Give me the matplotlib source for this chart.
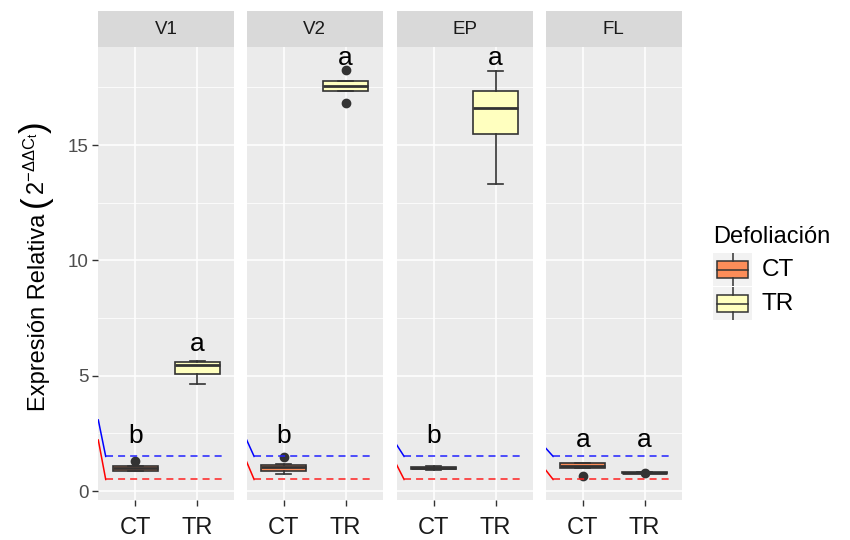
import matplotlib
matplotlib.use("Agg")
import matplotlib.pyplot as plt
from matplotlib.patches import Rectangle

plt.rcParams['font.family'] = ['Liberation Sans', 'DejaVu Sans']
plt.rcParams['mathtext.fontset'] = 'custom'
plt.rcParams['mathtext.rm'] = 'Liberation Sans'
plt.rcParams['mathtext.it'] = 'Liberation Sans:italic'

# ---- datos ----
paneles = ["V1", "V2", "EP", "FL"]
grupos = ["CT", "TR"]
colores = {"CT": "#FC8D59", "TR": "#FFFFBF"}

# estadisticas de caja por panel: [CT, TR]
medianas = [[1.00, 5.45], [1.05, 17.55], [1.00, 16.61], [1.10, 0.80]]
q1 = [[0.87, 5.06], [0.87, 17.33], [0.95, 15.48], [0.98, 0.78]]
q3 = [[1.08, 5.58], [1.14, 17.76], [1.05, 17.36], [1.20, 0.82]]
bigote_inf = [[0.85, 4.65], [0.74, 17.33], [0.93, 13.32], [0.98, 0.77]]
bigote_sup = [[1.10, 5.63], [1.16, 17.76], [1.07, 18.23], [1.20, 0.83]]
atipicos = [[[1.31], []], [[1.47], [18.26, 16.83]], [[], []], [[0.65], [0.80]]]

# letras de significancia y su altura (linea base)
letras = [["b", "a"], ["b", "a"], ["b", "a"], ["a", "a"]]
letras_y = [[2.08, 6.05], [2.08, 18.47], [2.08, 18.47], [1.92, 1.92]]

# lineas de referencia
nivel_azul = 1.5
nivel_rojo = 0.5
inicio_azul = [3.08, 2.21, 2.00, 1.86]
inicio_rojo = [2.21, 1.26, 1.13, 0.91]

yticks = [0, 5, 10, 15]

# ---- figura ----
W, H = 850, 540
fig = plt.figure(figsize=(W / 100, H / 100), dpi=100)


def px_axes(x0, y0, x1, y1):
    return fig.add_axes([x0 / W, 1 - y1 / H, (x1 - x0) / W, (y1 - y0) / H])


lefts = [98.3, 246.7, 396.7, 545.7]
pw = 136
top, bottom = 47, 500
ylim = (-0.39, 19.25)

for i, nombre in enumerate(paneles):
    ax = px_axes(lefts[i], top, lefts[i] + pw, bottom)
    ax.set_facecolor("#EBEBEB")
    for s in ax.spines.values():
        s.set_visible(False)

    for j, g in enumerate(grupos):
        st = [dict(med=medianas[i][j], q1=q1[i][j], q3=q3[i][j],
                   whislo=bigote_inf[i][j], whishi=bigote_sup[i][j],
                   fliers=atipicos[i][j])]
        ax.bxp(st, positions=[j + 1], widths=0.73, capwidths=0.24,
               patch_artist=True, manage_ticks=False,
               boxprops=dict(facecolor=colores[g], edgecolor="#333333", lw=1.2),
               medianprops=dict(color="#333333", lw=2.0),
               whiskerprops=dict(color="#333333", lw=1.2),
               capprops=dict(color="#333333", lw=1.2),
               flierprops=dict(marker="o", markersize=6, markerfacecolor="#333333",
                               markeredgecolor="#333333"))
        ax.text(j + 1, letras_y[i][j], letras[i][j], fontsize=19, ha="center",
                va="baseline", color="black")

    # lineas de referencia
    ax.plot([0.4, 0.52], [inicio_azul[i], nivel_azul], color="blue", lw=1.1)
    ax.plot([0.4, 0.52], [inicio_rojo[i], nivel_rojo], color="red", lw=1.1)
    ax.plot([0.52, 2.45], [nivel_azul] * 2, color="#2222FF", lw=1.1, dashes=(4.6, 3.3))
    ax.plot([0.52, 2.45], [nivel_rojo] * 2, color="#FF2222", lw=1.1, dashes=(4.6, 3.3))

    ax.set_xlim(0.4, 2.6)
    ax.set_ylim(*ylim)
    ax.set_yticks(yticks)
    ax.set_yticks([2.5, 7.5, 12.5, 17.5], minor=True)
    ax.set_xticks([1, 2])
    ax.set_xticklabels(grupos, fontsize=17, color="#1A1A1A")
    ax.grid(True, which="major", color="white", lw=1.1)
    ax.grid(True, which="minor", axis="y", color="white", lw=0.55)
    ax.set_axisbelow(True)
    ax.tick_params(axis="x", length=4, width=1, color="#333333", pad=8)
    ax.tick_params(axis="y", which="minor", length=0)
    if i == 0:
        ax.set_yticklabels([str(v) for v in yticks], fontsize=13.5, color="#4D4D4D")
        ax.tick_params(axis="y", length=4, width=1, color="#333333", pad=3)
    else:
        ax.tick_params(axis="y", length=0, labelleft=False)

    # franja superior
    sx = px_axes(lefts[i], 11, lefts[i] + pw, top)
    sx.set_facecolor("#D9D9D9")
    sx.set_xticks([])
    sx.set_yticks([])
    for s in sx.spines.values():
        s.set_visible(False)
    sx.text(0.5, 0.5, nombre, fontsize=13.5, color="#1A1A1A", ha="center", va="center",
            transform=sx.transAxes)

# titulo del eje y, por partes (parentesis grandes)
renderer = fig.canvas.get_renderer()
partes = [("Expresión Relativa ", 17), ("(", 25),
          (r"$2^{-\Delta\Delta \mathrm{C_t}}$", 17), (")", 25)]
objs = []
for txt, fs in partes:
    t = fig.text(0, 0, txt, fontsize=fs, rotation=90, rotation_mode="anchor",
                 ha="left", va="baseline")
    objs.append(t)
largos = [t.get_window_extent(renderer).height for t in objs]
total = sum(largos)
y = 266 + total / 2  # pixel (desde arriba) donde empieza el texto
for t, L in zip(objs, largos):
    t.set_position((45 / W, 1 - y / H))
    y -= L

# leyenda
fig.text(713 / W, 1 - 237 / H, "Defoliación", fontsize=17, ha="left", va="center")
for k, g in enumerate(grupos):
    y0 = 253 + k * 34
    lx = px_axes(713, y0, 752, y0 + 33)
    lx.set_xlim(0, 1)
    lx.set_ylim(0, 1)
    lx.axis("off")
    lx.add_patch(Rectangle((0, 0), 1, 1, facecolor="#F2F2F2", edgecolor="none"))
    lx.plot([0.5, 0.5], [0, 0.25], color="#333333", lw=1.1)
    lx.plot([0.5, 0.5], [0.75, 1], color="#333333", lw=1.1)
    lx.add_patch(Rectangle((0.1, 0.25), 0.8, 0.5, facecolor=colores[g],
                           edgecolor="#333333", lw=1.1))
    lx.plot([0.1, 0.9], [0.5, 0.5], color="#333333", lw=1.1)
    fig.text(762 / W, 1 - (y0 + 17) / H, g, fontsize=17.5, ha="left", va="center")

fig.savefig("out.png", dpi=100, facecolor="white")
